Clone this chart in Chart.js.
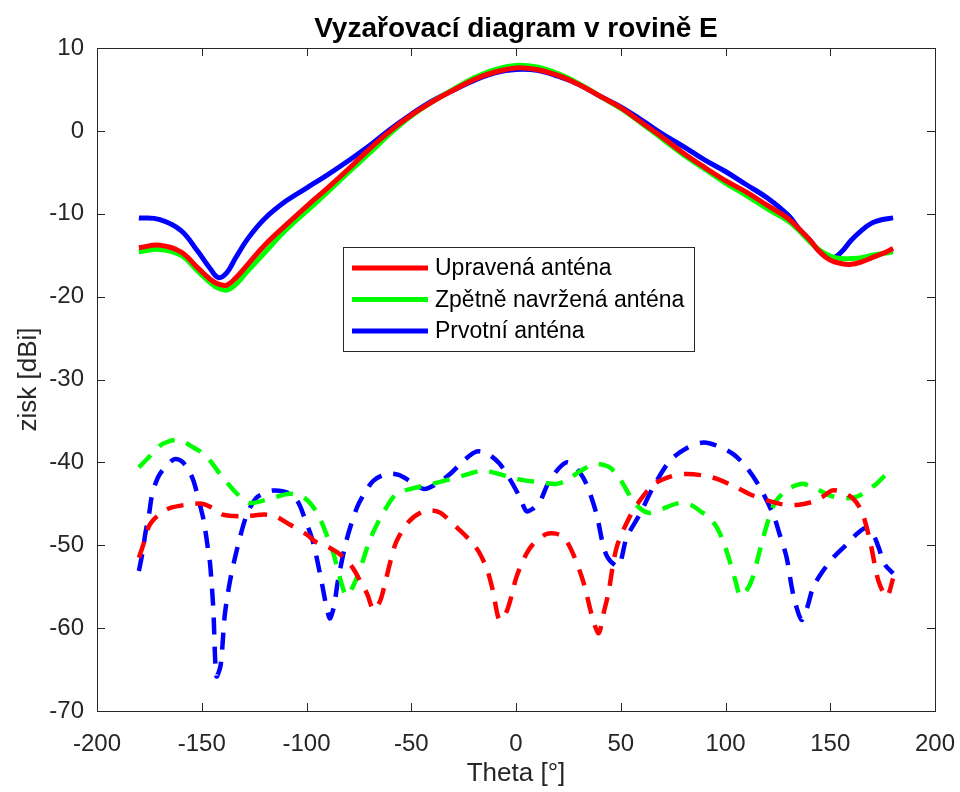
<!DOCTYPE html>
<html lang="cs">
<head>
<meta charset="utf-8">
<title>Vyzařovací diagram v rovině E</title>
<script src="https://cdn.jsdelivr.net/npm/chart.js@4.4.1/dist/chart.umd.min.js"></script>
<style>
    html, body { margin: 0; padding: 0; background: #ffffff; }
    #wrap { width: 960px; height: 792px; }
</style>
</head>
<body>
<div id="wrap"><canvas id="diagram" width="960" height="792"></canvas></div>
<script>
"use strict";

// ===== DATA =====
// solid lines (co-polar) share one theta grid
const thetaCo = [-180, -170, -160, -152, -146, -142, -138, -134, -128, -120, -110, -100, -90, -80, -70, -60, -50, -40, -30, -20, -10,
    0, 10, 20, 30, 40, 50, 60, 70, 80, 90, 100, 110, 120, 130, 135, 140, 145, 150, 155, 160, 165, 170, 175, 180];
const coUpravena = [-14.1, -13.8, -14.6, -16.5, -17.9, -18.5, -18.6, -17.8, -16.1, -13.8, -11.4, -9.1, -6.9, -4.6, -2.2, 0.0, 1.9, 3.5, 4.9, 6.2, 7.1,
    7.6, 7.4, 6.7, 5.6, 4.2, 2.8, 1.0, -0.8, -2.7, -4.4, -6.0, -7.4, -9.0, -10.6, -11.8, -13.1, -14.6, -15.6, -16.0, -16.1, -15.8, -15.3, -14.8, -14.2];
const coZpetne = [-14.6, -14.3, -15.0, -16.9, -18.3, -19.0, -19.2, -18.6, -16.9, -14.7, -12.0, -9.7, -7.4, -5.0, -2.7, -0.3, 1.8, 3.5, 5.0, 6.4, 7.4,
    7.9, 7.7, 6.9, 5.7, 4.2, 2.7, 0.9, -1.0, -2.9, -4.6, -6.3, -7.8, -9.4, -10.9, -12.0, -13.3, -14.4, -15.1, -15.4, -15.4, -15.3, -15.0, -14.8, -14.6];
const coPrvotni = [-10.5, -10.7, -12.0, -14.5, -16.6, -17.7, -17.1, -15.4, -13.0, -10.6, -8.5, -6.9, -5.3, -3.6, -1.8, 0.2, 2.0, 3.6, 4.9, 6.1, 7.0,
    7.4, 7.3, 6.6, 5.6, 4.2, 2.9, 1.3, -0.4, -1.9, -3.5, -4.9, -6.5, -8.1, -10.2, -11.8, -13.1, -14.6, -15.4, -14.7, -13.2, -12.0, -11.1, -10.7, -10.5];

// dashed lines (cross-polar), each read on its own theta points
const thetaXUpravena = [-180, -178, -175, -170, -165, -157, -150, -144, -140, -130, -120, -115, -108, -100, -95, -89, -83, -78, -74, -71, -68, -65, -63, -60, -57,
    -51, -45, -40, -36, -28, -19, -14, -11, -8, -5, -2, 0, 4, 8, 14, 19, 23, 27, 32, 37, 39.5, 42, 44, 48, 54, 60, 66, 74, 81, 90,
    96, 105, 113, 120, 128, 135, 141, 146, 151, 156, 161, 165, 169, 173, 177, 180];
const xUpravena = [-51.5, -50.0, -47.6, -46.2, -45.5, -45.1, -45.0, -45.6, -46.3, -46.5, -46.3, -46.5, -47.5, -48.7, -49.7, -50.3, -51.3, -52.7, -54.5, -55.9, -57.8, -56.8, -55.1, -52.0, -49.5,
    -47.1, -46.0, -45.8, -46.1, -47.9, -50.3, -52.8, -55.5, -59.0, -58.3, -56.0, -54.0, -51.5, -49.9, -48.7, -48.6, -49.1, -50.9, -54.3, -59.2, -60.6, -58.0, -55.9, -50.3, -46.7, -44.3, -42.6, -41.7, -41.4, -41.6,
    -42.0, -43.0, -44.0, -44.6, -45.1, -45.1, -44.8, -44.2, -43.4, -43.6, -44.4, -45.9, -49.5, -54.3, -56.2, -54.0];

const thetaXZpetne = [-180, -175, -170, -166, -162, -158, -154, -150, -146, -141, -136, -131, -127, -122, -115, -108, -102, -97, -93, -90, -87, -84, -81, -78.5, -76,
    -73, -70, -66, -63, -57, -47, -40, -31, -24, -16, -8, -3, 5, 12, 19, 24, 31, 38, 44, 48, 52, 56, 60, 64, 70, 78,
    84, 88, 92, 96, 99, 102, 105, 107, 110, 113, 116, 118, 121, 124, 130, 136, 140, 145, 150, 155, 160, 164, 168, 172, 176, 180];
const xZpetne = [-40.6, -39.3, -38.0, -37.5, -37.3, -37.6, -38.2, -38.8, -39.8, -41.5, -43.0, -44.3, -44.9, -44.7, -44.2, -43.8, -44.1, -45.3, -47.1, -49.0, -51.1, -54.0, -56.1, -55.3, -53.9,
    -51.8, -49.5, -47.3, -45.9, -43.8, -43.0, -42.6, -42.0, -41.5, -41.0, -41.4, -41.8, -42.2, -42.4, -42.6, -42.2, -41.0, -40.2, -40.5, -41.4, -43.0, -44.7, -45.7, -46.1, -45.6, -44.9,
    -45.2, -45.9, -46.6, -47.9, -49.6, -51.9, -54.5, -56.1, -55.5, -53.9, -51.0, -49.1, -46.5, -44.7, -43.2, -42.6, -42.8, -43.4, -44.0, -44.3, -44.3, -44.0, -43.3, -42.6, -41.6, -40.7];

const thetaXPrvotni = [-180, -178, -177, -175, -174, -172, -170, -166, -163, -160, -157, -154, -151.5, -149, -147, -146, -144.5, -143, -141, -139, -136.5, -133, -128.5, -124, -120,
    -116, -111, -108, -104, -101.5, -97, -93.5, -89, -87, -85, -81, -76, -72, -68, -62, -56, -51, -44, -38, -31.5, -25, -19, -14, -8, -3,
    2, 5, 8, 11.5, 15, 19.5, 24, 28, 32, 35, 38.5, 43, 48.8, 52.8, 59, 65.5, 73.5, 82, 89.4, 96, 103.7, 110, 116.4, 122.8, 126,
    129.2, 132.3, 136.3, 139, 141.8, 146, 151.4, 157.8, 163.3, 167.3, 170.5, 173, 176, 180];
const xPrvotni = [-53.1, -50.5, -48.7, -46.0, -44.3, -42.5, -41.4, -40.2, -39.6, -39.8, -40.6, -42.2, -44.5, -47.1, -50.5, -52.3, -57.6, -65.8, -64.5, -58.4, -54.3, -50.3, -46.3, -44.3, -43.7,
    -43.4, -43.5, -43.8, -44.8, -46.3, -49.5, -53.5, -58.8, -57.5, -54.3, -49.5, -45.5, -43.6, -42.2, -41.4, -41.5, -42.2, -43.2, -42.6, -41.4, -39.8, -38.7, -38.9, -40.1, -42.0,
    -44.3, -45.9, -45.6, -44.7, -42.7, -41.0, -40.0, -40.5, -41.8, -43.5, -46.3, -51.1, -52.5, -49.1, -46.3, -43.0, -39.8, -38.2, -37.6, -38.0, -39.0, -40.6, -43.0, -46.3, -48.8,
    -51.5, -55.9, -59.0, -57.5, -55.1, -53.3, -51.5, -49.9, -48.5, -47.9, -48.7, -50.2, -52.3, -53.4];

const seriesNames = ['Upravená anténa', 'Zpětně navržená anténa', 'Prvotní anténa'];
const seriesColors = ['#ff0000', '#00ff00', '#0000ff'];

const xTicks = [-200, -150, -100, -50, 0, 50, 100, 150, 200];
const yTicks = [-70, -60, -50, -40, -30, -20, -10, 0, 10];

const FONT = 'Arial, "Liberation Sans", Helvetica, sans-serif';
const AXIS_COLOR = '#262626';

function toPoints(thetaList, gainList) {
    return thetaList.map((t, i) => ({ x: t, y: gainList[i] }));
}

function buildDatasets() {
    const solid = [coUpravena, coZpetne, coPrvotni];
    const dashed = [
        [thetaXUpravena, xUpravena],
        [thetaXZpetne, xZpetne],
        [thetaXPrvotni, xPrvotni]
    ];
    const sets = [];
    // dashed first so the solid ones end up on top of them
    dashed.forEach((d, i) => {
        sets.push({
            label: seriesNames[i],
            inLegend: false,
            data: toPoints(d[0], d[1]),
            borderColor: seriesColors[i],
            borderWidth: 4.5,
            borderDash: [17, 12],
            tension: 0.3,
            pointRadius: 0,
            fill: false
        });
    });
    solid.forEach((vals, i) => {
        sets.push({
            label: seriesNames[i],
            inLegend: true,
            data: toPoints(thetaCo, vals),
            borderColor: seriesColors[i],
            borderWidth: 5,
            tension: 0.4,
            pointRadius: 0,
            fill: false
        });
    });
    return sets;
}

// MATLAB style frame: box, inward ticks, title and legend inside the axes
const matlabFrame = {
    id: 'matlabFrame',
    afterDatasetsDraw(chart) {
        const { ctx, chartArea: a, scales } = chart;
        const tickLen = 8;
        ctx.save();
        ctx.strokeStyle = AXIS_COLOR;
        ctx.lineWidth = 1;
        ctx.beginPath();
        scales.x.ticks.forEach(t => {
            const px = Math.round(scales.x.getPixelForValue(t.value)) + 0.5;
            ctx.moveTo(px, a.bottom); ctx.lineTo(px, a.bottom - tickLen);
            ctx.moveTo(px, a.top); ctx.lineTo(px, a.top + tickLen);
        });
        scales.y.ticks.forEach(t => {
            const py = Math.round(scales.y.getPixelForValue(t.value)) + 0.5;
            ctx.moveTo(a.left, py); ctx.lineTo(a.left + tickLen, py);
            ctx.moveTo(a.right, py); ctx.lineTo(a.right - tickLen, py);
        });
        ctx.stroke();
        ctx.strokeRect(Math.round(a.left) + 0.5, Math.round(a.top) + 0.5,
            Math.round(a.right - a.left), Math.round(a.bottom - a.top));
        ctx.restore();
    },
    afterDraw(chart, args, opts) {
        const { ctx, chartArea: a } = chart;
        ctx.save();

        // title
        ctx.fillStyle = '#000000';
        ctx.font = 'bold 28px ' + FONT;
        ctx.textAlign = 'center';
        ctx.textBaseline = 'middle';
        ctx.fillText(opts.title, (a.left + a.right) / 2, 29);

        // legend box
        const lg = opts.legend;
        ctx.fillStyle = '#ffffff';
        ctx.fillRect(lg.x, lg.y, lg.w, lg.h);
        ctx.strokeStyle = AXIS_COLOR;
        ctx.lineWidth = 1;
        ctx.strokeRect(lg.x + 0.5, lg.y + 0.5, lg.w, lg.h);

        ctx.font = '23px ' + FONT;
        ctx.textAlign = 'left';
        ctx.textBaseline = 'middle';
        const entries = chart.data.datasets.filter(ds => ds.inLegend);
        entries.forEach((ds, i) => {
            const y = lg.y + lg.firstRow + i * lg.rowGap;
            ctx.strokeStyle = ds.borderColor;
            ctx.lineWidth = ds.borderWidth;
            ctx.beginPath();
            ctx.moveTo(lg.x + 9, y);
            ctx.lineTo(lg.x + 85, y);
            ctx.stroke();
            ctx.fillStyle = '#000000';
            ctx.fillText(ds.label, lg.x + 92, y + 1);
        });
        ctx.restore();
    }
};

function initChart() {
    const ctx = document.getElementById('diagram');
    const tickFont = { family: FONT, size: 24 };

    const cfg = {
        type: 'line',
        data: { datasets: buildDatasets() },
        options: {
            responsive: false,
            animation: false,
            devicePixelRatio: 1,
            layout: { padding: { top: 48, right: 25, bottom: 0, left: 0 } },
            plugins: {
                legend: { display: false },
                tooltip: { enabled: false },
                matlabFrame: {
                    title: 'Vyzařovací diagram v rovině E',
                    legend: { x: 343, y: 247, w: 351, h: 104, firstRow: 21, rowGap: 31.5 }
                }
            },
            scales: {
                x: {
                    type: 'linear',
                    min: xTicks[0],
                    max: xTicks[xTicks.length - 1],
                    afterBuildTicks: (scale) => { scale.ticks = xTicks.map(v => ({ value: v })); },
                    afterFit: (scale) => {
                        scale.height = 81;
                        scale.paddingLeft = 0;
                        scale.paddingRight = 0;
                    },
                    grid: { display: false, drawTicks: false },
                    border: { display: false },
                    ticks: { color: AXIS_COLOR, font: tickFont, padding: 19, maxRotation: 0 },
                    title: {
                        display: true,
                        text: 'Theta [°]',
                        color: AXIS_COLOR,
                        font: { family: FONT, size: 26 },
                        padding: { top: 0, bottom: 3 }
                    }
                },
                y: {
                    type: 'linear',
                    min: yTicks[0],
                    max: yTicks[yTicks.length - 1],
                    afterBuildTicks: (scale) => { scale.ticks = yTicks.map(v => ({ value: v })); },
                    afterFit: (scale) => { scale.width = 97; },
                    grid: { display: false, drawTicks: false },
                    border: { display: false },
                    ticks: { color: AXIS_COLOR, font: tickFont, padding: 13 },
                    title: {
                        display: true,
                        text: 'zisk [dBi]',
                        color: AXIS_COLOR,
                        font: { family: FONT, size: 26 },
                        padding: { top: 13, bottom: 0 }
                    }
                }
            }
        },
        plugins: [matlabFrame]
    };

    new Chart(ctx, cfg);
}

document.addEventListener('DOMContentLoaded', initChart);
</script>
</body>
</html>
